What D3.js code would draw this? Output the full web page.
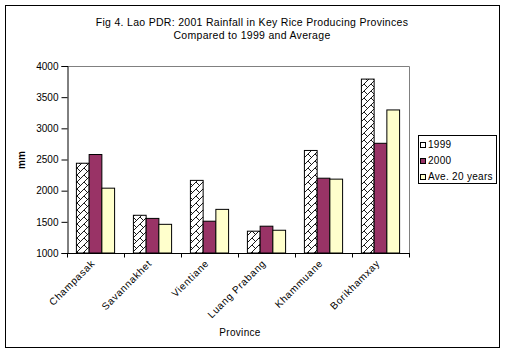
<!DOCTYPE html>
<html><head><meta charset="utf-8">
<script src="https://cdn.jsdelivr.net/npm/d3@7"></script>
<style>body{margin:0;background:#fff}svg{display:block}text{font-family:Arial,"Liberation Sans",sans-serif;fill:#000}</style>
</head><body>
<script>
const categories = ["Champasak","Savannakhet","Vientiane","Luang Prabang","Khammuane","Borikhamxay"];
const seriesNames = ["1999","2000","Ave. 20 years"];
const values1999 = [2440,1605,2165,1350,2645,3790];
const values2000 = [2580,1555,1510,1430,2200,2760];
const valuesAvg = [2040,1460,1700,1365,2185,3295];
const yTicks = [1000,1500,2000,2500,3000,3500,4000];
const titleLines = ["Fig 4. Lao PDR: 2001 Rainfall in Key Rice Producing Provinces","Compared to 1999 and Average"];

(function(){
const seriesValues = [values1999, values2000, valuesAvg];
const W = 506, H = 355;
const svg = d3.select("body").append("svg").attr("width", W).attr("height", H);
const defs = svg.append("defs");
const pat = defs.append("pattern").attr("id","hatch").attr("patternUnits","userSpaceOnUse").attr("width",7).attr("height",7);
pat.append("rect").attr("width",7).attr("height",7).attr("fill","#fff");
pat.append("path").attr("d","M-1,8 L8,-1 M-1,1 L1,-1 M6,8 L8,6").attr("stroke","#000").attr("stroke-width",0.9);
pat.append("path").attr("d","M0,0 L3.5,3.5").attr("stroke","#000").attr("stroke-width",0.9);

const fills = ["url(#hatch)","#993366","#FFFFCC"];
const legendFills = ["#fff","#993366","#FFFFCC"];

svg.append("rect").attr("x",5.5).attr("y",5.5).attr("width",494).attr("height",342).attr("fill","#fff").attr("stroke","#000");

const pL = 67, pR = 409, pT = 66, pB = 253;
const x = d3.scaleBand().domain(categories).range([pL,pR]).paddingInner(0).paddingOuter(0);
const x1 = d3.scaleBand().domain(seriesNames).range([x.bandwidth()*0.165, x.bandwidth()*0.835]).padding(0);
const y = d3.scaleLinear().domain([1000,4000]).range([pB,pT]);

svg.append("path").attr("d",`M${pL},${pT+0.5} H${pR+0.5} V${pB}`).attr("fill","none").attr("stroke","#808080");

svg.selectAll(".title").data(titleLines).join("text")
  .attr("x",252).attr("y",(d,i)=>26+i*12.5).attr("text-anchor","middle").attr("font-size","10.5px")
  .attr("letter-spacing","0.3px").text(d=>d);

const g = svg.append("g");
categories.forEach((c,ci)=>{
  seriesNames.forEach((s,si)=>{
    const v = seriesValues[si][ci];
    g.append("rect")
      .attr("x", x(c)+x1(s)).attr("y", y(v))
      .attr("width", x1.bandwidth()).attr("height", y(1000)-y(v))
      .attr("fill", fills[si]).attr("stroke","#000").attr("stroke-width",1);
  });
});

const yAxis = d3.axisLeft(y).tickValues(yTicks).tickSize(6).tickPadding(3).tickFormat(d3.format("d"));
const ya = svg.append("g").attr("transform",`translate(${pL+0.5},0)`).call(yAxis);
ya.select(".domain").attr("stroke","#000");
ya.selectAll("line").attr("stroke","#000");
ya.selectAll("text").attr("font-size","10px").attr("font-family","Arial, 'Liberation Sans', sans-serif");

const xa = svg.append("g").attr("transform",`translate(0,${pB+0.5})`);
xa.append("line").attr("x1",pL).attr("x2",pR+1).attr("stroke","#000");
const bounds = categories.map(c=>x(c)).concat([pR]);
xa.selectAll(".tk").data(bounds).join("line").attr("x1",d=>d+0.5).attr("x2",d=>d+0.5).attr("y1",0).attr("y2",4).attr("stroke","#000");
svg.selectAll(".cat").data(categories).join("text")
  .attr("transform",d=>`translate(${x(d)+x.bandwidth()/2},${pB+11}) rotate(-45)`)
  .attr("text-anchor","end").attr("font-size","10px").attr("letter-spacing","0.7px").text(d=>d);

svg.append("text").attr("transform","translate(25,160) rotate(-90)").attr("text-anchor","middle")
  .attr("font-size","10px").attr("font-weight","bold").text("mm");
svg.append("text").attr("x",240).attr("y",336).attr("text-anchor","middle").attr("font-size","10px")
  .attr("letter-spacing","0.3px").text("Province");

const lg = svg.append("g");
lg.append("rect").attr("x",418.5).attr("y",135.5).attr("width",78).attr("height",48).attr("fill","#fff").attr("stroke","#000");
seriesNames.forEach((s,i)=>{
  const yy = 142 + i*16;
  lg.append("rect").attr("x",420.5).attr("y",yy+0.5).attr("width",5).attr("height",5).attr("fill",legendFills[i]).attr("stroke","#000");
  lg.append("text").attr("x",428).attr("y",yy+6).attr("font-size","10px").attr("letter-spacing","0.3px").text(s);
});
})();
</script>
</body></html>
